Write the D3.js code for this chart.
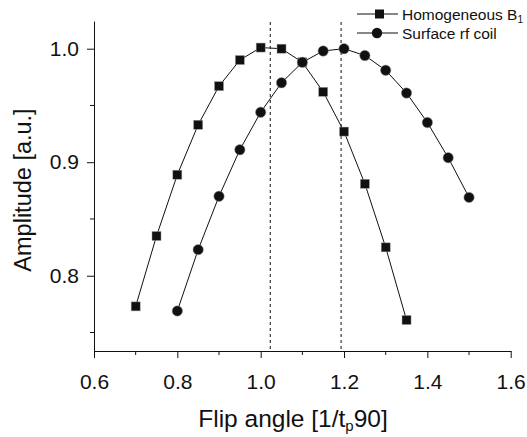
<!DOCTYPE html>
<html>
<head>
<meta charset="utf-8">
<script src="https://cdn.jsdelivr.net/npm/d3@7"></script>
<style>
  body { margin: 0; background: #fff; }
  text { font-family: "Liberation Sans", Arial, sans-serif; fill: #111; }
</style>
</head>
<body>
<script>
// data
var flip = [0.70, 0.75, 0.80, 0.85, 0.90, 0.95, 1.00, 1.05, 1.10, 1.15, 1.20, 1.25, 1.30, 1.35, 1.40, 1.45, 1.50];
var homog = [0.773, 0.835, 0.889, 0.933, 0.967, 0.990, 1.001, 1.000, 0.988, 0.962, 0.927, 0.881, 0.825, 0.761];
var surfX = [0.80, 0.85, 0.90, 0.95, 1.00, 1.05, 1.10, 1.15, 1.20, 1.25, 1.30, 1.35, 1.40, 1.45, 1.50];
var surf = [0.769, 0.823, 0.870, 0.911, 0.944, 0.970, 0.988, 0.998, 1.000, 0.994, 0.981, 0.961, 0.935, 0.904, 0.869];
var dashX = [1.023, 1.193];
var xTicks = [0.6, 0.8, 1.0, 1.2, 1.4, 1.6];
var xMinor = [0.7, 0.9, 1.1, 1.3, 1.5];
var yTicks = [0.8, 0.9, 1.0];
var yMinor = [0.75, 0.85, 0.95];

var W = 527, H = 437;
var svg = d3.select("body").append("svg").attr("width", W).attr("height", H);

var x = d3.scaleLinear().domain([0.6, 1.6]).range([94, 510.7]);
var y = d3.scaleLinear().domain([0.7337, 1.0244]).range([351, 21]);

// axes//{{{
var gx = svg.append("g").attr("transform", "translate(0,351)")
	.call(d3.axisBottom(x).tickValues(xTicks).tickFormat(d3.format(".1f")).tickSize(7).tickPadding(15).tickSizeOuter(0));
gx.append("g").selectAll("line").data(xMinor).join("line")
	.attr("x1", d => x(d)).attr("x2", d => x(d)).attr("y1", 0).attr("y2", 4).attr("stroke", "#111");

var gy = svg.append("g").attr("transform", "translate(94,0)")
	.call(d3.axisLeft(y).tickValues(yTicks).tickFormat(d3.format(".1f")).tickSize(7).tickPadding(8).tickSizeOuter(0));
gy.append("g").selectAll("line").data(yMinor).join("line")
	.attr("y1", d => y(d)).attr("y2", d => y(d)).attr("x1", 0).attr("x2", -4).attr("stroke", "#111");

svg.selectAll(".domain, .tick line").attr("stroke", "#111");
svg.selectAll(".tick text").style("font-size", "21px").attr("fill", "#111");
gx.selectAll(".tick text").attr("dy", "0.75em");
//}}}

// dashed markers
svg.selectAll(".dash").data(dashX).join("line")
	.attr("x1", d => x(d)).attr("x2", d => x(d))
	.attr("y1", 22).attr("y2", 351)
	.attr("stroke", "#111").attr("stroke-dasharray", "3,3");

// series
var line = d3.line().x(d => x(d[0])).y(d => y(d[1]));
var hData = homog.map((v, i) => [flip[i], v]);
var sData = surf.map((v, i) => [surfX[i], v]);

svg.append("path").datum(hData).attr("d", line).attr("fill", "none").attr("stroke", "#111");
svg.append("path").datum(sData).attr("d", line).attr("fill", "none").attr("stroke", "#111");

svg.selectAll(".sq").data(hData).join("rect")
	.attr("x", d => x(d[0]) - 4.5).attr("y", d => y(d[1]) - 4.5)
	.attr("width", 9).attr("height", 9).attr("fill", "#111").attr("stroke", "#999").attr("stroke-width", 0.5);
svg.selectAll(".ci").data(sData).join("circle")
	.attr("cx", d => x(d[0])).attr("cy", d => y(d[1])).attr("r", 5.2)
	.attr("fill", "#111").attr("stroke", "#999").attr("stroke-width", 0.5);

// titles
svg.append("text").attr("x", 293).attr("y", 427).attr("text-anchor", "middle").style("font-size", "24.5px")
	.html('Flip angle [1/t<tspan baseline-shift="-25%" font-size="15px">p</tspan>90]');
svg.append("text").attr("transform", "translate(31,190) rotate(-90)").attr("text-anchor", "middle")
	.style("font-size", "23.5px").text("Amplitude [a.u.]");

// legend//{{{
var lg = svg.append("g");
lg.append("line").attr("x1", 357).attr("x2", 398).attr("y1", 14).attr("y2", 14).attr("stroke", "#111");
lg.append("rect").attr("x", 375).attr("y", 9.5).attr("width", 9).attr("height", 9).attr("fill", "#111");
lg.append("text").attr("x", 402).attr("y", 19.5).style("font-size", "15.5px")
	.html('Homogeneous B<tspan baseline-shift="-25%" font-size="10px">1</tspan>');
lg.append("line").attr("x1", 357).attr("x2", 398).attr("y1", 33).attr("y2", 33).attr("stroke", "#111");
lg.append("circle").attr("cx", 377).attr("cy", 33).attr("r", 5.2).attr("fill", "#111");
lg.append("text").attr("x", 402).attr("y", 38.5).style("font-size", "15.5px").text("Surface rf coil");
//}}}
</script>
</body>
</html>
